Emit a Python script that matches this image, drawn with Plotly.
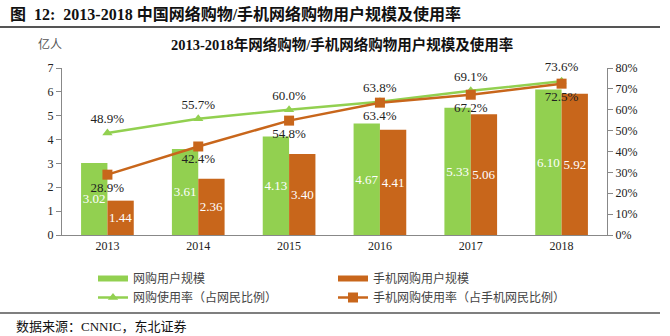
import plotly.graph_objects as go

years = ["2013", "2014", "2015", "2016", "2017", "2018"]
online_users = [3.02, 3.61, 4.13, 4.67, 5.33, 6.10]
mobile_users = [1.44, 2.36, 3.40, 4.41, 5.06, 5.92]
online_rate = [48.9, 55.7, 60.0, 63.8, 69.1, 73.6]
mobile_rate = [28.9, 42.4, 54.8, 63.4, 67.2, 72.5]

GREEN = "#92D050"
ORANGE = "#C8661B"
SERIF = "Liberation Serif, Noto Sans CJK SC"
CJK = "Noto Sans CJK SC"

W, H = 670, 336
L, R, T, B = 62, 63, 68, 101
pw, ph = W - L - R, H - T - B


def px(x):
    return (x - L) / pw


def py(y):
    return (H - B - y) / ph


fig = go.Figure()

bar_text = dict(textposition="inside", insidetextanchor="middle", textangle=0,
                constraintext="none",
                textfont=dict(color="white", family=SERIF, size=13))

fig.add_trace(go.Bar(
    x=years, y=online_users, name="网购用户规模", showlegend=False,
    marker=dict(color=GREEN, line=dict(width=0)),
    text=[f"{v:.2f}" for v in online_users], **bar_text,
))
fig.add_trace(go.Bar(
    x=years, y=mobile_users, name="手机网购用户规模", showlegend=False,
    marker=dict(color=ORANGE, line=dict(width=0)),
    text=[f"{v:.2f}" for v in mobile_users], **bar_text,
))
# Legend entries for the bars drawn as wide flat swatches
fig.add_trace(go.Scatter(
    x=[years[0]], y=[None], name="网购用户规模", mode="lines",
    line=dict(color=GREEN, width=6), hoverinfo="skip",
))
fig.add_trace(go.Scatter(
    x=[years[0]], y=[None], name="手机网购用户规模", mode="lines",
    line=dict(color=ORANGE, width=6), hoverinfo="skip",
))
fig.add_trace(go.Scatter(
    x=years, y=online_rate, name="网购使用率（占网民比例）", yaxis="y2",
    mode="lines+markers+text", cliponaxis=False,
    line=dict(color=GREEN, width=2.5),
    marker=dict(symbol="triangle-up", size=9, color=GREEN),
    text=[f"{v:.1f}%" for v in online_rate], textposition="top center",
    textfont=dict(color="#222", family=SERIF, size=13),
))
fig.add_trace(go.Scatter(
    x=years, y=mobile_rate, name="手机网购使用率（占手机网民比例）", yaxis="y2",
    mode="lines+markers+text", cliponaxis=False,
    line=dict(color=ORANGE, width=2.5),
    marker=dict(symbol="square", size=10, color=ORANGE),
    text=[f"{v:.1f}%" for v in mobile_rate], textposition="bottom center",
    textfont=dict(color="#222", family=SERIF, size=13),
))

axis_common = dict(
    showgrid=False, zeroline=False, showline=True, linecolor="#888",
    linewidth=1, tickfont=dict(family=SERIF, size=12, color="#222"),
)

fig.update_layout(
    width=W, height=H,
    margin=dict(l=L, r=R, t=T, b=B),
    paper_bgcolor="white", plot_bgcolor="white",
    barmode="group", bargap=0.42, bargroupgap=0,
    xaxis=dict(**axis_common, ticks=""),
    yaxis=dict(**axis_common, range=[0, 7], dtick=1, ticks="outside",
               ticklen=5, tickcolor="#888"),
    yaxis2=dict(**axis_common, overlaying="y", side="right", range=[0, 80],
                dtick=10, ticksuffix="%", ticks="outside", ticklen=5,
                tickcolor="#888"),
    showlegend=True,
    legend=dict(
        orientation="h", x=px(93), y=py(264), xanchor="left", yanchor="top",
        entrywidth=195, entrywidthmode="pixels",
        font=dict(family=CJK, size=12, color="#444"),
        tracegroupgap=0, itemwidth=30, bgcolor="rgba(0,0,0,0)",
    ),
    font=dict(family=SERIF),
)

# Heading, unit label, chart title and source line
fig.add_annotation(
    x=px(8), y=py(14), xref="paper", yref="paper", xanchor="left",
    yanchor="middle", showarrow=False,
    text="<b>图  12:  2013-2018 中国网络购物/手机网络购物用户规模及使用率</b>",
    font=dict(family=SERIF, size=16, color="#111"),
)
fig.add_annotation(
    x=px(36), y=py(43), xref="paper", yref="paper", xanchor="left",
    yanchor="middle", showarrow=False, text="亿人",
    font=dict(family=CJK, size=12, color="#555"),
)
fig.add_annotation(
    x=px(342), y=py(45), xref="paper", yref="paper", xanchor="center",
    yanchor="middle", showarrow=False,
    text="<b>2013-2018年网络购物/手机网络购物用户规模及使用率</b>",
    font=dict(family=SERIF, size=14.5, color="#111"),
)
fig.add_annotation(
    x=px(14), y=py(326), xref="paper", yref="paper", xanchor="left",
    yanchor="middle", showarrow=False, text="数据来源：CNNIC，东北证券",
    font=dict(family=SERIF, size=13, color="#111"),
)

fig.add_shape(type="line", xref="paper", yref="paper",
              x0=px(0), x1=px(660), y0=py(27), y1=py(27),
              line=dict(color="#555", width=2))
fig.add_shape(type="line", xref="paper", yref="paper",
              x0=px(0), x1=px(660), y0=py(313), y1=py(313),
              line=dict(color="#555", width=1.5))

fig.write_html("out.html")
